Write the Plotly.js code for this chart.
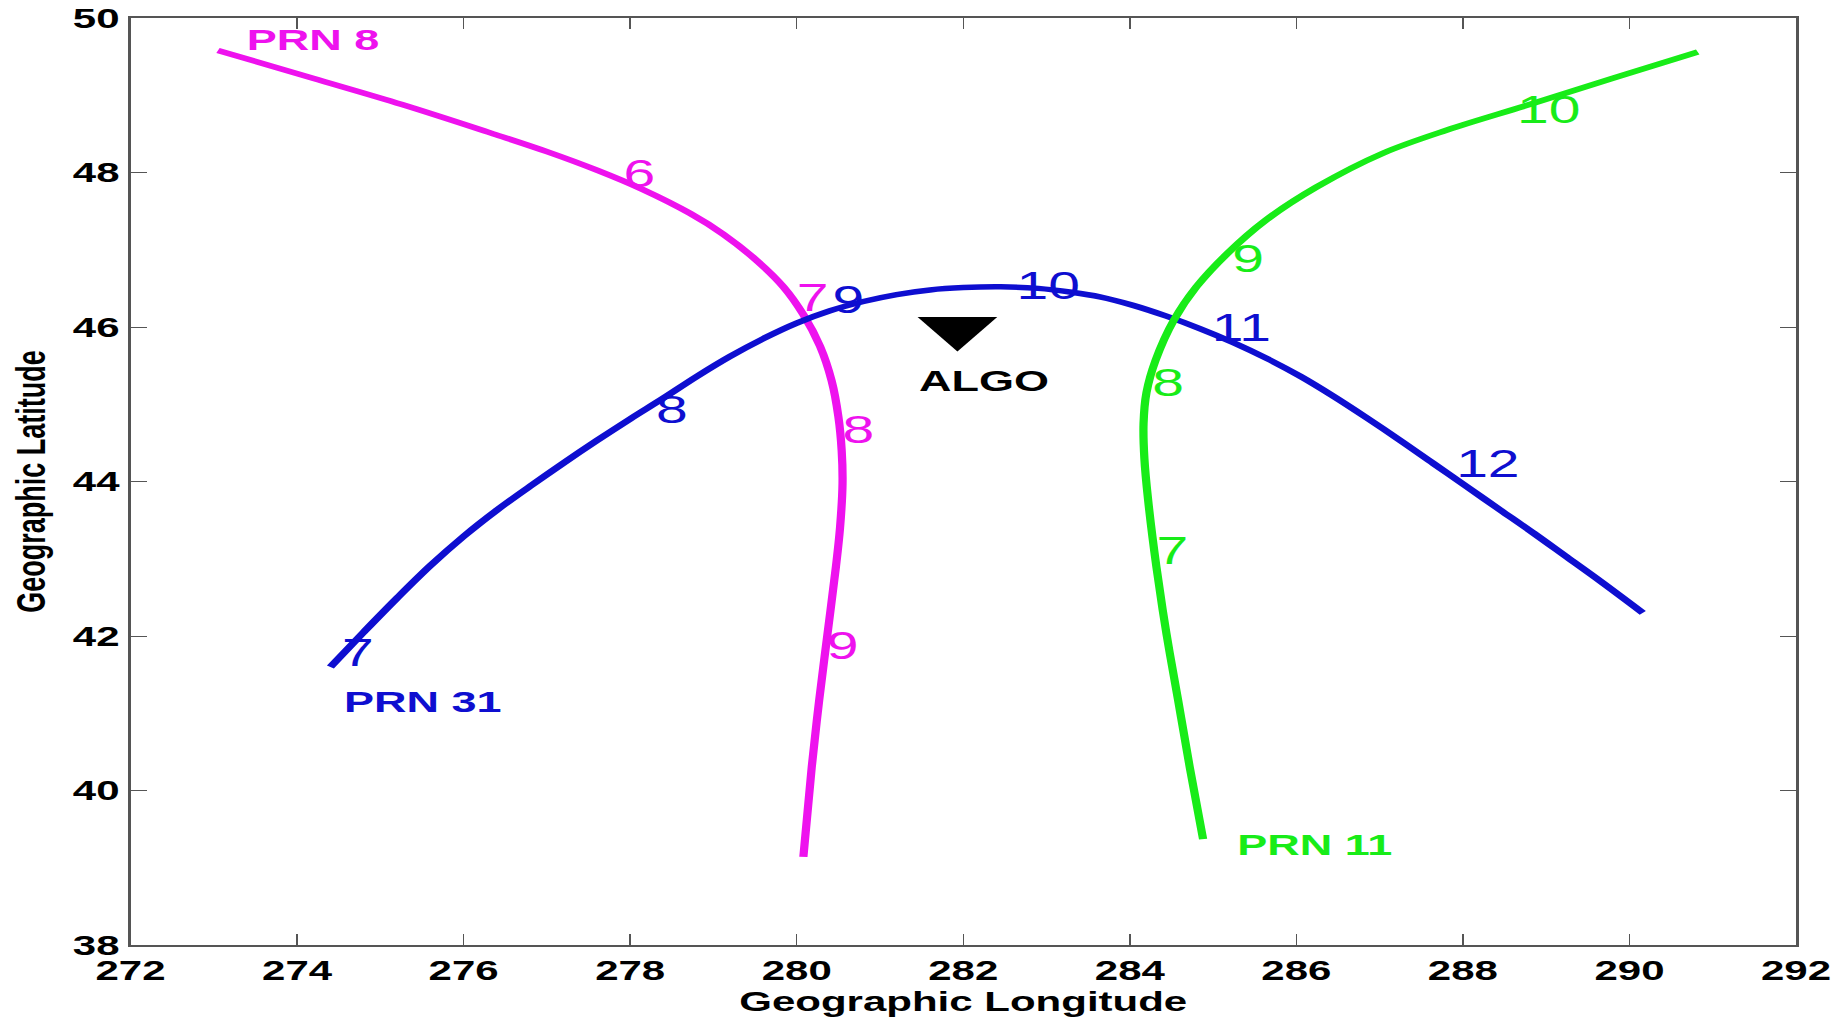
<!DOCTYPE html>
<html>
<head>
<meta charset="utf-8">
<script src="https://cdn.plot.ly/plotly-3.0.1.min.js"></script>
<style>
  html, body { margin: 0; padding: 0; overflow: hidden; background: #ffffff; }
  #plot { width: 1223px; height: 1017px; transform: scaleX(1.50041); transform-origin: 0 0; }
</style>
</head>
<body>
<div id="plot"></div>
<script>
// ---- Satellite ground tracks (ionospheric pierce points) ----
const prn8Lon  = [273.05, 274.19, 275.26, 276.33, 277.00, 277.60, 278.15, 278.72, 279.12, 279.52, 279.84, 280.08, 280.28, 280.42, 280.50, 280.54, 280.55, 280.52, 280.47, 280.37, 280.27, 280.18, 280.08];
const prn8Lat  = [49.58, 49.22, 48.88, 48.51, 48.27, 48.03, 47.78, 47.47, 47.20, 46.86, 46.52, 46.16, 45.75, 45.30, 44.84, 44.40, 43.97, 43.40, 42.89, 42.03, 41.17, 40.30, 39.14];

const prn31Lon = [274.40, 274.80, 275.20, 275.60, 276.00, 276.40, 276.80, 277.20, 277.60, 278.00, 278.40, 278.80, 279.20, 279.60, 280.00, 280.40, 280.80, 281.20, 281.60, 282.00, 282.45, 282.90, 283.30, 283.64, 284.04, 284.44, 284.84, 285.24, 285.65, 286.05, 286.45, 286.85, 287.25, 287.65, 288.05, 288.45, 288.85, 289.25, 289.65, 290.16];
const prn31Lat = [41.60, 42.05, 42.49, 42.91, 43.29, 43.63, 43.94, 44.24, 44.53, 44.81, 45.08, 45.36, 45.62, 45.85, 46.05, 46.21, 46.33, 46.42, 46.48, 46.51, 46.52, 46.50, 46.45, 46.39, 46.28, 46.14, 45.98, 45.80, 45.59, 45.36, 45.10, 44.82, 44.53, 44.23, 43.93, 43.63, 43.33, 43.02, 42.71, 42.30];

const prn11Lon = [284.88, 284.72, 284.58, 284.44, 284.32, 284.22, 284.175, 284.165, 284.20, 284.31, 284.53, 284.80, 285.17, 285.63, 286.24, 287.04, 287.81, 288.80, 289.80, 290.82];
const prn11Lat = [39.37, 40.30, 41.17, 42.03, 42.89, 43.76, 44.30, 44.75, 45.15, 45.57, 46.09, 46.52, 46.95, 47.38, 47.81, 48.25, 48.55, 48.88, 49.22, 49.56];

// ---- Hour labels along each track ----
const prn8HourText  = ['6', '7', '8', '9'];
const prn8HourLon   = [278.11, 280.19, 280.74, 280.55];
const prn8HourLat   = [47.94, 46.33, 44.62, 41.83];

const prn31HourText = ['7', '8', '9', '10', '11', '12'];
const prn31HourLon  = [274.73, 278.50, 280.62, 283.02, 285.34, 288.30];
const prn31HourLat  = [41.73, 44.88, 46.30, 46.49, 45.94, 44.18];

const prn11HourText = ['7', '8', '9', '10'];
const prn11HourLon  = [284.51, 284.46, 285.42, 289.03];
const prn11HourLat  = [43.06, 45.23, 46.84, 48.76];

// ---- Satellite name labels ----
const prnNames   = ['PRN 8', 'PRN 31', 'PRN 11'];
const prnNameLon = [274.19, 275.51, 286.22];
const prnNameLat = [49.68, 41.11, 39.26];

// ---- Station ----
const stationName = ['ALGO'];
const stationLon  = [281.93];
const stationLat  = [45.98];
const stationLabelLon = [282.25];
const stationLabelLat = [45.27];

// ---- Axis ticks ----
const lonTicks = [272, 274, 276, 278, 280, 282, 284, 286, 288, 290, 292];
const latTicks = [38, 40, 42, 44, 46, 48, 50];

const magenta = '#ee12ee';
const blue = '#0e0ed0';
const green = '#18ec18';
const colors = [magenta, blue, green];

const FONT = 'Liberation Sans, Arial, Helvetica, sans-serif';

const lineW = 5.5;
const traces = [
  {x: prn8Lon, y: prn8Lat, mode: 'lines', line: {color: magenta, width: lineW, shape: 'spline', smoothing: 1}},
  {x: prn31Lon, y: prn31Lat, mode: 'lines', line: {color: blue, width: lineW, shape: 'spline', smoothing: 1}},
  {x: prn11Lon, y: prn11Lat, mode: 'lines', line: {color: green, width: lineW, shape: 'spline', smoothing: 1}},
  {x: prn8HourLon, y: prn8HourLat, text: prn8HourText, mode: 'text', textposition: 'middle center',
   textfont: {family: FONT, size: 38, color: magenta}, cliponaxis: false},
  {x: prn31HourLon, y: prn31HourLat, text: prn31HourText, mode: 'text', textposition: 'middle center',
   textfont: {family: FONT, size: 38, color: blue}, cliponaxis: false},
  {x: prn11HourLon, y: prn11HourLat, text: prn11HourText, mode: 'text', textposition: 'middle center',
   textfont: {family: FONT, size: 38, color: green}, cliponaxis: false},
  {x: prnNameLon, y: prnNameLat, text: prnNames, mode: 'text', textposition: 'middle center',
   textfont: {family: FONT, size: 30, weight: 'bold', color: colors}, cliponaxis: false},
  {x: stationLon, y: stationLat, mode: 'markers',
   marker: {symbol: 'triangle-down', size: 46, color: '#000000', line: {width: 0}}},
  {x: stationLabelLon, y: stationLabelLat, text: stationName, mode: 'text', textposition: 'middle center',
   textfont: {family: FONT, size: 30, weight: 'bold', color: '#000000'}, cliponaxis: false}
];

const axisCommon = {
  showgrid: false, zeroline: false, showline: true, linecolor: '#555555', linewidth: 1.5,
  mirror: 'allticks', ticks: 'inside', ticklen: 11, tickwidth: 1.2, tickcolor: '#555555',
  tickfont: {family: FONT, size: 28, weight: 'bold', color: '#000000'}
};

const layout = {
  width: 1223, height: 1017,
  margin: {l: 87, r: 26, t: 18, b: 72},
  paper_bgcolor: '#ffffff', plot_bgcolor: '#ffffff',
  showlegend: false,
  xaxis: Object.assign({}, axisCommon, {
    range: [272, 292], tickvals: lonTicks, ticktext: lonTicks.map(String),
    title: {text: 'Geographic Longitude', standoff: 6, font: {family: FONT, size: 28, weight: 'bold', color: '#000000'}}
  }),
  yaxis: Object.assign({}, axisCommon, {
    range: [38, 50], tickvals: latTicks, ticktext: latTicks.map(String),
    title: {text: 'Geographic Latitude', standoff: 10, font: {family: FONT, size: 27, weight: 'bold', color: '#000000'}}
  })
};

Plotly.newPlot('plot', traces, layout, {displayModeBar: false, responsive: false});
</script>
</body>
</html>
